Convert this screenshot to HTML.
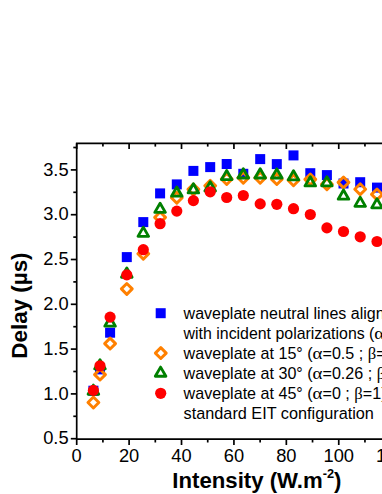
<!DOCTYPE html><html><head><meta charset="utf-8"><style>.ls{font-family:"Liberation Sans",sans-serif}.lf{font-family:"Liberation Serif",serif}html,body{margin:0;padding:0;background:#fff}body{width:382px;height:494px;overflow:hidden;position:relative;font-family:"Liberation Sans",sans-serif}</style></head><body><svg width="382" height="494" viewBox="0 0 382 494" style="position:absolute;left:0;top:0">
<g stroke="#000" stroke-width="1.7" fill="none">
<path d="M76.7 143.3V439.1M75.9 439.1H400M75.9 143.3H400"/>
<path d="M70.8 438.70H76.7"/>
<path d="M73.3 416.30H76.7"/>
<path d="M70.8 393.90H76.7"/>
<path d="M73.3 371.50H76.7"/>
<path d="M70.8 349.10H76.7"/>
<path d="M73.3 326.70H76.7"/>
<path d="M70.8 304.30H76.7"/>
<path d="M73.3 281.90H76.7"/>
<path d="M70.8 259.50H76.7"/>
<path d="M73.3 237.10H76.7"/>
<path d="M70.8 214.70H76.7"/>
<path d="M73.3 192.30H76.7"/>
<path d="M70.8 169.90H76.7"/>
<path d="M73.3 147.50H76.7"/>
<path d="M76.70 439.1v5.9"/>
<path d="M76.70 143.3v5.7"/>
<path d="M102.91 439.1v3.4"/>
<path d="M102.91 143.3v3.3"/>
<path d="M129.11 439.1v5.9"/>
<path d="M129.11 143.3v5.7"/>
<path d="M155.31 439.1v3.4"/>
<path d="M155.31 143.3v3.3"/>
<path d="M181.52 439.1v5.9"/>
<path d="M181.52 143.3v5.7"/>
<path d="M207.72 439.1v3.4"/>
<path d="M207.72 143.3v3.3"/>
<path d="M233.93 439.1v5.9"/>
<path d="M233.93 143.3v5.7"/>
<path d="M260.13 439.1v3.4"/>
<path d="M260.13 143.3v3.3"/>
<path d="M286.34 439.1v5.9"/>
<path d="M286.34 143.3v5.7"/>
<path d="M312.54 439.1v3.4"/>
<path d="M312.54 143.3v3.3"/>
<path d="M338.75 439.1v5.9"/>
<path d="M338.75 143.3v5.7"/>
<path d="M364.95 439.1v3.4"/>
<path d="M364.95 143.3v3.3"/>
<path d="M391.16 439.1v5.9"/>
<path d="M391.16 143.3v5.7"/>
</g>
<rect x="88.40" y="385.70" width="10.0" height="10.0" fill="#0000ff"/>
<rect x="95.00" y="364.40" width="10.0" height="10.0" fill="#0000ff"/>
<rect x="105.10" y="327.70" width="10.0" height="10.0" fill="#0000ff"/>
<rect x="121.80" y="252.10" width="10.0" height="10.0" fill="#0000ff"/>
<rect x="138.30" y="217.10" width="10.0" height="10.0" fill="#0000ff"/>
<rect x="155.10" y="188.40" width="10.0" height="10.0" fill="#0000ff"/>
<rect x="171.80" y="179.40" width="10.0" height="10.0" fill="#0000ff"/>
<rect x="188.40" y="165.90" width="10.0" height="10.0" fill="#0000ff"/>
<rect x="205.20" y="162.10" width="10.0" height="10.0" fill="#0000ff"/>
<rect x="221.70" y="159.00" width="10.0" height="10.0" fill="#0000ff"/>
<rect x="238.30" y="168.80" width="10.0" height="10.0" fill="#0000ff"/>
<rect x="255.20" y="154.10" width="10.0" height="10.0" fill="#0000ff"/>
<rect x="271.80" y="159.10" width="10.0" height="10.0" fill="#0000ff"/>
<rect x="288.50" y="150.40" width="10.0" height="10.0" fill="#0000ff"/>
<rect x="305.30" y="168.20" width="10.0" height="10.0" fill="#0000ff"/>
<rect x="321.90" y="170.10" width="10.0" height="10.0" fill="#0000ff"/>
<rect x="338.50" y="178.50" width="10.0" height="10.0" fill="#0000ff"/>
<rect x="355.20" y="177.20" width="10.0" height="10.0" fill="#0000ff"/>
<rect x="372.00" y="182.60" width="10.0" height="10.0" fill="#0000ff"/>
<path d="M93.40 397.05L98.85 402.50L93.40 407.95L87.95 402.50Z" fill="none" stroke="#ff8000" stroke-width="2.9" stroke-linejoin="round"/>
<path d="M100.00 369.15L105.45 374.60L100.00 380.05L94.55 374.60Z" fill="none" stroke="#ff8000" stroke-width="2.9" stroke-linejoin="round"/>
<path d="M110.10 338.15L115.55 343.60L110.10 349.05L104.65 343.60Z" fill="none" stroke="#ff8000" stroke-width="2.9" stroke-linejoin="round"/>
<path d="M126.80 283.45L132.25 288.90L126.80 294.35L121.35 288.90Z" fill="none" stroke="#ff8000" stroke-width="2.9" stroke-linejoin="round"/>
<path d="M143.30 248.25L148.75 253.70L143.30 259.15L137.85 253.70Z" fill="none" stroke="#ff8000" stroke-width="2.9" stroke-linejoin="round"/>
<path d="M160.10 211.95L165.55 217.40L160.10 222.85L154.65 217.40Z" fill="none" stroke="#ff8000" stroke-width="2.9" stroke-linejoin="round"/>
<path d="M176.80 192.25L182.25 197.70L176.80 203.15L171.35 197.70Z" fill="none" stroke="#ff8000" stroke-width="2.9" stroke-linejoin="round"/>
<path d="M193.40 183.95L198.85 189.40L193.40 194.85L187.95 189.40Z" fill="none" stroke="#ff8000" stroke-width="2.9" stroke-linejoin="round"/>
<path d="M210.20 180.25L215.65 185.70L210.20 191.15L204.75 185.70Z" fill="none" stroke="#ff8000" stroke-width="2.9" stroke-linejoin="round"/>
<path d="M226.70 173.55L232.15 179.00L226.70 184.45L221.25 179.00Z" fill="none" stroke="#ff8000" stroke-width="2.9" stroke-linejoin="round"/>
<path d="M243.30 172.35L248.75 177.80L243.30 183.25L237.85 177.80Z" fill="none" stroke="#ff8000" stroke-width="2.9" stroke-linejoin="round"/>
<path d="M260.20 172.35L265.65 177.80L260.20 183.25L254.75 177.80Z" fill="none" stroke="#ff8000" stroke-width="2.9" stroke-linejoin="round"/>
<path d="M276.80 173.65L282.25 179.10L276.80 184.55L271.35 179.10Z" fill="none" stroke="#ff8000" stroke-width="2.9" stroke-linejoin="round"/>
<path d="M293.50 174.85L298.95 180.30L293.50 185.75L288.05 180.30Z" fill="none" stroke="#ff8000" stroke-width="2.9" stroke-linejoin="round"/>
<path d="M310.30 173.95L315.75 179.40L310.30 184.85L304.85 179.40Z" fill="none" stroke="#ff8000" stroke-width="2.9" stroke-linejoin="round"/>
<path d="M326.90 178.75L332.35 184.20L326.90 189.65L321.45 184.20Z" fill="none" stroke="#ff8000" stroke-width="2.9" stroke-linejoin="round"/>
<path d="M343.50 176.95L348.95 182.40L343.50 187.85L338.05 182.40Z" fill="none" stroke="#ff8000" stroke-width="2.9" stroke-linejoin="round"/>
<path d="M360.20 183.75L365.65 189.20L360.20 194.65L354.75 189.20Z" fill="none" stroke="#ff8000" stroke-width="2.9" stroke-linejoin="round"/>
<path d="M377.00 188.95L382.45 194.40L377.00 199.85L371.55 194.40Z" fill="none" stroke="#ff8000" stroke-width="2.9" stroke-linejoin="round"/>
<path d="M93.40 385.11L98.70 394.29L88.10 394.29Z" fill="none" stroke="#008000" stroke-width="2.85" stroke-linejoin="round"/>
<path d="M100.00 359.71L105.30 368.89L94.70 368.89Z" fill="none" stroke="#008000" stroke-width="2.85" stroke-linejoin="round"/>
<path d="M110.10 317.01L115.40 326.19L104.80 326.19Z" fill="none" stroke="#008000" stroke-width="2.85" stroke-linejoin="round"/>
<path d="M126.80 268.06L132.10 277.24L121.50 277.24Z" fill="none" stroke="#008000" stroke-width="2.85" stroke-linejoin="round"/>
<path d="M143.30 227.16L148.60 236.34L138.00 236.34Z" fill="none" stroke="#008000" stroke-width="2.85" stroke-linejoin="round"/>
<path d="M160.10 203.21L165.40 212.39L154.80 212.39Z" fill="none" stroke="#008000" stroke-width="2.85" stroke-linejoin="round"/>
<path d="M176.80 187.01L182.10 196.19L171.50 196.19Z" fill="none" stroke="#008000" stroke-width="2.85" stroke-linejoin="round"/>
<path d="M193.40 183.76L198.70 192.94L188.10 192.94Z" fill="none" stroke="#008000" stroke-width="2.85" stroke-linejoin="round"/>
<path d="M210.20 181.81L215.50 190.99L204.90 190.99Z" fill="none" stroke="#008000" stroke-width="2.85" stroke-linejoin="round"/>
<path d="M226.70 170.41L232.00 179.59L221.40 179.59Z" fill="none" stroke="#008000" stroke-width="2.85" stroke-linejoin="round"/>
<path d="M243.30 168.81L248.60 177.99L238.00 177.99Z" fill="none" stroke="#008000" stroke-width="2.85" stroke-linejoin="round"/>
<path d="M260.20 168.81L265.50 177.99L254.90 177.99Z" fill="none" stroke="#008000" stroke-width="2.85" stroke-linejoin="round"/>
<path d="M276.80 168.86L282.10 178.04L271.50 178.04Z" fill="none" stroke="#008000" stroke-width="2.85" stroke-linejoin="round"/>
<path d="M293.50 170.66L298.80 179.84L288.20 179.84Z" fill="none" stroke="#008000" stroke-width="2.85" stroke-linejoin="round"/>
<path d="M310.30 176.76L315.60 185.94L305.00 185.94Z" fill="none" stroke="#008000" stroke-width="2.85" stroke-linejoin="round"/>
<path d="M326.90 176.66L332.20 185.84L321.60 185.84Z" fill="none" stroke="#008000" stroke-width="2.85" stroke-linejoin="round"/>
<path d="M343.50 190.01L348.80 199.19L338.20 199.19Z" fill="none" stroke="#008000" stroke-width="2.85" stroke-linejoin="round"/>
<path d="M360.20 197.16L365.50 206.34L354.90 206.34Z" fill="none" stroke="#008000" stroke-width="2.85" stroke-linejoin="round"/>
<path d="M377.00 198.66L382.30 207.84L371.70 207.84Z" fill="none" stroke="#008000" stroke-width="2.85" stroke-linejoin="round"/>
<circle cx="93.40" cy="390.40" r="5.6" fill="#ff0000"/>
<circle cx="100.00" cy="365.80" r="5.6" fill="#ff0000"/>
<circle cx="110.10" cy="317.10" r="5.6" fill="#ff0000"/>
<circle cx="126.80" cy="274.90" r="5.6" fill="#ff0000"/>
<circle cx="143.30" cy="249.70" r="5.6" fill="#ff0000"/>
<circle cx="160.10" cy="223.70" r="5.6" fill="#ff0000"/>
<circle cx="176.80" cy="211.10" r="5.6" fill="#ff0000"/>
<circle cx="193.40" cy="200.60" r="5.6" fill="#ff0000"/>
<circle cx="210.20" cy="191.80" r="5.6" fill="#ff0000"/>
<circle cx="226.70" cy="197.50" r="5.6" fill="#ff0000"/>
<circle cx="243.30" cy="195.50" r="5.6" fill="#ff0000"/>
<circle cx="260.20" cy="203.90" r="5.6" fill="#ff0000"/>
<circle cx="276.80" cy="204.30" r="5.6" fill="#ff0000"/>
<circle cx="293.50" cy="208.70" r="5.6" fill="#ff0000"/>
<circle cx="310.30" cy="214.50" r="5.6" fill="#ff0000"/>
<circle cx="326.90" cy="227.90" r="5.6" fill="#ff0000"/>
<circle cx="343.50" cy="231.50" r="5.6" fill="#ff0000"/>
<circle cx="360.20" cy="236.80" r="5.6" fill="#ff0000"/>
<circle cx="377.00" cy="241.50" r="5.6" fill="#ff0000"/>
<rect x="155.70" y="308.20" width="10.0" height="10.0" fill="#0000ff"/>
<path d="M160.80 347.65L166.25 353.10L160.80 358.55L155.35 353.10Z" fill="none" stroke="#ff8000" stroke-width="2.9" stroke-linejoin="round"/>
<path d="M160.60 367.11L165.90 376.29L155.30 376.29Z" fill="none" stroke="#008000" stroke-width="2.85" stroke-linejoin="round"/>
<circle cx="160.70" cy="393.30" r="5.6" fill="#ff0000"/>
<g class="ls" font-size="18.3" fill="#000">
<text x="68.6" y="444.30" text-anchor="end">0.5</text>
<text x="68.6" y="399.50" text-anchor="end">1.0</text>
<text x="68.6" y="354.70" text-anchor="end">1.5</text>
<text x="68.6" y="309.90" text-anchor="end">2.0</text>
<text x="68.6" y="265.10" text-anchor="end">2.5</text>
<text x="68.6" y="220.30" text-anchor="end">3.0</text>
<text x="68.6" y="175.50" text-anchor="end">3.5</text>
<text x="76.70" y="461.6" text-anchor="middle">0</text>
<text x="129.11" y="461.6" text-anchor="middle">20</text>
<text x="181.52" y="461.6" text-anchor="middle">40</text>
<text x="233.93" y="461.6" text-anchor="middle">60</text>
<text x="286.34" y="461.6" text-anchor="middle">80</text>
<text x="338.75" y="461.6" text-anchor="middle">100</text>
<text x="391.16" y="461.6" text-anchor="middle">120</text>
</g>
<g class="ls" font-weight="bold" font-size="22" fill="#000">
<text x="172.3" y="488.4" font-size="22.2">Intensity (W.m<tspan font-size="12.8" dy="-10.6">-2</tspan><tspan dy="10.6">)</tspan></text>
<text font-size="22.4" transform="translate(27.2,358.7) rotate(-90)">Delay (µs)</text>
</g>
<g class="ls" font-size="16.1" fill="#000">
<text x="183.6" y="319.30" font-size="16.0">waveplate neutral lines aligned</text>
<text x="183.6" y="339.30" font-size="15.9">with incident polarizations (<tspan class="lf" textLength="9.9" lengthAdjust="spacingAndGlyphs">α</tspan>=1 ; <tspan class="lf" textLength="8.5" lengthAdjust="spacingAndGlyphs">β</tspan>=0)</text>
<text x="183.6" y="359.30">waveplate at 15° (<tspan class="lf" textLength="9.9" lengthAdjust="spacingAndGlyphs">α</tspan>=0.5 ; <tspan class="lf" textLength="8.5" lengthAdjust="spacingAndGlyphs">β</tspan>=0.5)</text>
<text x="183.6" y="379.30">waveplate at 30° (<tspan class="lf" textLength="9.9" lengthAdjust="spacingAndGlyphs">α</tspan>=0.26 ; <tspan class="lf" textLength="8.5" lengthAdjust="spacingAndGlyphs">β</tspan>=0.74)</text>
<text x="183.6" y="399.30">waveplate at 45° (<tspan class="lf" textLength="9.9" lengthAdjust="spacingAndGlyphs">α</tspan>=0 ; <tspan class="lf" textLength="8.5" lengthAdjust="spacingAndGlyphs">β</tspan>=1)</text>
<text x="183.6" y="419.30" font-size="16.25">standard EIT configuration</text>
</g>
</svg></body></html>
